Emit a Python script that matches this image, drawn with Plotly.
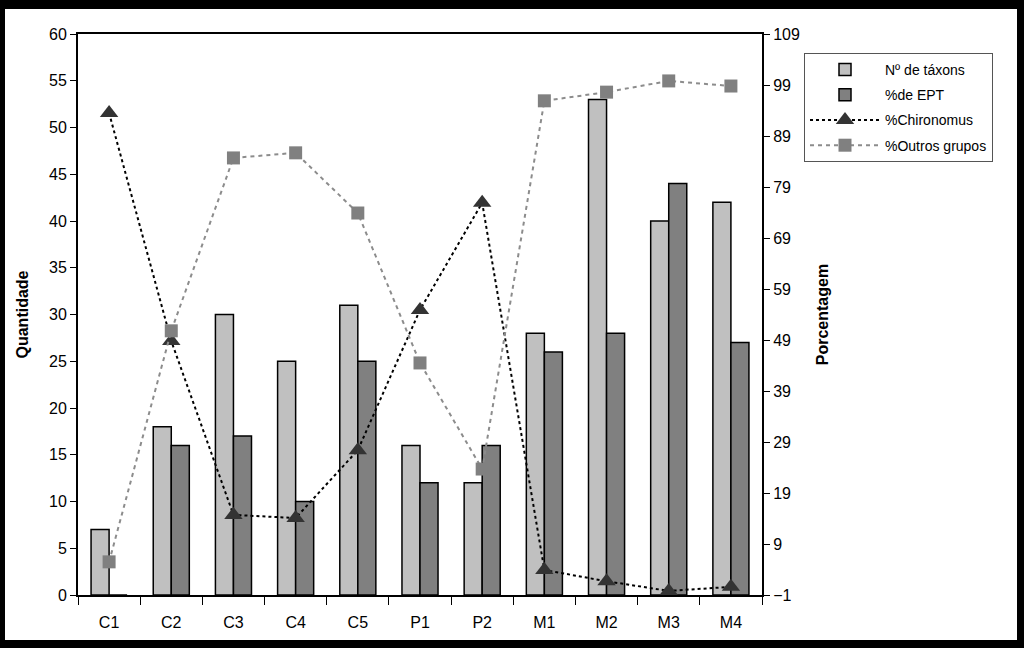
import plotly.graph_objects as go

pontos = ['C1', 'C2', 'C3', 'C4', 'C5', 'P1', 'P2', 'M1', 'M2', 'M3', 'M4']
n_taxons = [7, 18, 30, 25, 31, 16, 12, 28, 53, 40, 42]
pct_ept = [0, 16, 17, 10, 25, 12, 16, 26, 28, 44, 27]
pct_chironomus = [93.5, 48.8, 14.7, 14.1, 27.4, 54.9, 75.9, 3.9, 1.7, -0.2, 0.6]
pct_outros = [5.5, 50.8, 84.7, 85.7, 73.9, 44.5, 23.7, 95.9, 97.6, 99.8, 98.8]

tick_font = dict(family='Liberation Sans, Arial', size=16, color='black')
title_font = dict(family='Liberation Sans, Arial', size=16, color='black')

fig = go.Figure()

fig.add_trace(go.Bar(
    x=pontos, y=n_taxons, name='Nº de táxons',
    marker=dict(color='#C0C0C0', line=dict(color='black', width=1.5)),
    legendgroup='a',
))
fig.add_trace(go.Bar(
    x=pontos, y=pct_ept, name='%de EPT',
    marker=dict(color='#808080', line=dict(color='black', width=1.5)),
    legendgroup='b',
))
fig.add_trace(go.Scatter(
    x=pontos, y=pct_chironomus, name='%Chironomus', yaxis='y2',
    mode='lines+markers',
    line=dict(color='black', width=2, dash='dot'),
    marker=dict(symbol='triangle-up', size=16, color='#333333'),
    legendgroup='c',
))
fig.add_trace(go.Scatter(
    x=pontos, y=pct_outros, name='%Outros grupos', yaxis='y2',
    mode='lines+markers',
    line=dict(color='#8c8c8c', width=2, dash='4px,4px'),
    marker=dict(symbol='square', size=13, color='#808080'),
    legendgroup='d',
))

# plot area in pixels: x 78..762, y 34..595
L, R, T, B = 78, 762, 34, 595
W, H = R - L, B - T

def px(x):
    return (x - L) / W

def py(y):
    return (B - y) / H

# white page inside the black frame
fig.add_shape(type='rect', xref='paper', yref='paper',
              x0=px(5), x1=px(1017), y0=py(640), y1=py(9),
              fillcolor='white', line=dict(width=0), layer='below')

fig.update_layout(
    width=1024, height=648,
    margin=dict(l=L, r=1024 - R, t=T, b=648 - B),
    paper_bgcolor='black',
    plot_bgcolor='white',
    barmode='group',
    bargap=0.42,
    bargroupgap=0,
    font=tick_font,
    xaxis=dict(
        range=[-0.5, len(pontos) - 0.5],
        showline=True, linecolor='black', linewidth=2, mirror=True,
        ticks='outside', ticklen=8, tickcolor='black', tickson='boundaries',
        ticklabelstandoff=12,
        tickfont=tick_font, showgrid=False,
    ),
    yaxis=dict(
        range=[0, 60], dtick=5, tick0=0,
        showline=True, linecolor='black', linewidth=2,
        ticks='outside', ticklen=6, tickcolor='black',
        tickfont=tick_font, showgrid=False, zeroline=False,
        title=dict(text='<b>Quantidade</b>', font=title_font, standoff=16),
    ),
    yaxis2=dict(
        range=[-1, 109], dtick=10, tick0=-1, overlaying='y', side='right',
        showline=True, linecolor='black', linewidth=2,
        ticks='outside', ticklen=6, tickcolor='black',
        tickfont=tick_font, showgrid=False, zeroline=False,
        title=dict(text='<b>Porcentagem</b>', font=title_font, standoff=18),
    ),
    legend=dict(
        x=px(804), y=py(53), xanchor='left', yanchor='top',
        bgcolor='white', bordercolor='#555555', borderwidth=1,
        font=dict(family='Liberation Sans, Arial', size=14, color='black'),
        traceorder='grouped', tracegroupgap=4, itemwidth=70,
    ),
)

fig.write_html('out.html', config={'displayModeBar': False},
               post_script="document.body.style.margin='0';")
